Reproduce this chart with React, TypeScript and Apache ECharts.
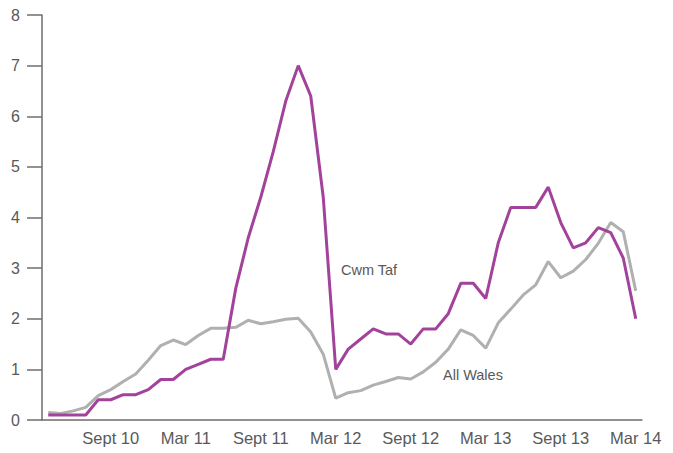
import React, { useEffect, useRef } from "react";
import * as echarts from "echarts";

const months = [
  "Apr 10","May 10","Jun 10","Jul 10","Aug 10","Sept 10","Oct 10","Nov 10","Dec 10","Jan 11","Feb 11","Mar 11",
  "Apr 11","May 11","Jun 11","Jul 11","Aug 11","Sept 11","Oct 11","Nov 11","Dec 11","Jan 12","Feb 12","Mar 12",
  "Apr 12","May 12","Jun 12","Jul 12","Aug 12","Sept 12","Oct 12","Nov 12","Dec 12","Jan 13","Feb 13","Mar 13",
  "Apr 13","May 13","Jun 13","Jul 13","Aug 13","Sept 13","Oct 13","Nov 13","Dec 13","Jan 14","Feb 14","Mar 14",
];
const shownLabels = ["Sept 10","Mar 11","Sept 11","Mar 12","Sept 12","Mar 13","Sept 13","Mar 14"];

const cwmTaf = [
  0.1,0.1,0.1,0.1,0.4,0.4,0.5,0.5,0.6,0.8,0.8,1.0,
  1.1,1.2,1.2,2.6,3.6,4.4,5.3,6.3,7.0,6.4,4.4,1.0,
  1.4,1.6,1.8,1.7,1.7,1.5,1.8,1.8,2.1,2.7,2.7,2.4,
  3.5,4.2,4.2,4.2,4.6,3.9,3.4,3.5,3.8,3.7,3.2,2.0,
];
const allWales = [
  0.15,0.13,0.18,0.25,0.48,0.6,0.76,0.91,1.18,1.47,1.58,1.49,
  1.67,1.81,1.81,1.83,1.97,1.9,1.94,1.99,2.01,1.74,1.3,0.43,
  0.54,0.58,0.69,0.76,0.84,0.81,0.95,1.14,1.4,1.78,1.67,1.42,
  1.92,2.19,2.47,2.67,3.13,2.81,2.94,3.17,3.49,3.9,3.72,2.55,
];

const FONT = "'Liberation Sans', Arial, sans-serif";
const TEXT = "#595959";
const AXIS = "#6e6e6e";

export default function App() {
  const ref = useRef<HTMLDivElement>(null);
  useEffect(() => {
    if (!ref.current) return;
    const chart = echarts.init(ref.current, null, { renderer: "svg" });
    chart.setOption({
      animation: false,
      grid: { left: 42, right: 31, top: 15, bottom: 33, containLabel: false },
      xAxis: {
        type: "category",
        data: months,
        boundaryGap: true,
        axisLine: { show: true, lineStyle: { color: AXIS, width: 1.5 } },
        axisTick: { show: false },
        axisLabel: {
          interval: 0,
          margin: 9,
          fontSize: 16.5,
          fontFamily: FONT,
          color: TEXT,
          formatter: (v: string) => (shownLabels.includes(v) ? v : ""),
        },
        splitLine: { show: false },
      },
      yAxis: {
        type: "value",
        min: 0,
        max: 8,
        interval: 1,
        axisLine: { show: true, lineStyle: { color: AXIS, width: 1.5 } },
        axisTick: { show: true, inside: false, length: 15, lineStyle: { color: AXIS, width: 1.5 } },
        axisLabel: { margin: 22, fontSize: 16, fontFamily: FONT, color: TEXT },
        splitLine: { show: false },
      },
      series: [
        {
          name: "All Wales",
          type: "line",
          data: allWales,
          symbol: "none",
          lineStyle: { color: "#b0b0b0", width: 3 },
          z: 2,
        },
        {
          name: "Cwm Taf",
          type: "line",
          data: cwmTaf,
          symbol: "none",
          lineStyle: { color: "#a3429a", width: 3 },
          z: 3,
        },
      ],
      graphic: [
        {
          type: "text",
          x: 341,
          y: 270,
          style: { text: "Cwm Taf", fontSize: 14.5, fontFamily: FONT, fill: TEXT, textVerticalAlign: "middle" },
        },
        {
          type: "text",
          x: 443,
          y: 375,
          style: { text: "All Wales", fontSize: 14.5, fontFamily: FONT, fill: TEXT, textVerticalAlign: "middle" },
        },
      ],
    });
    return () => chart.dispose();
  }, []);
  return <div ref={ref} style={{ width: 673, height: 453, position: "absolute", left: 0, top: 0 }} />;
}
